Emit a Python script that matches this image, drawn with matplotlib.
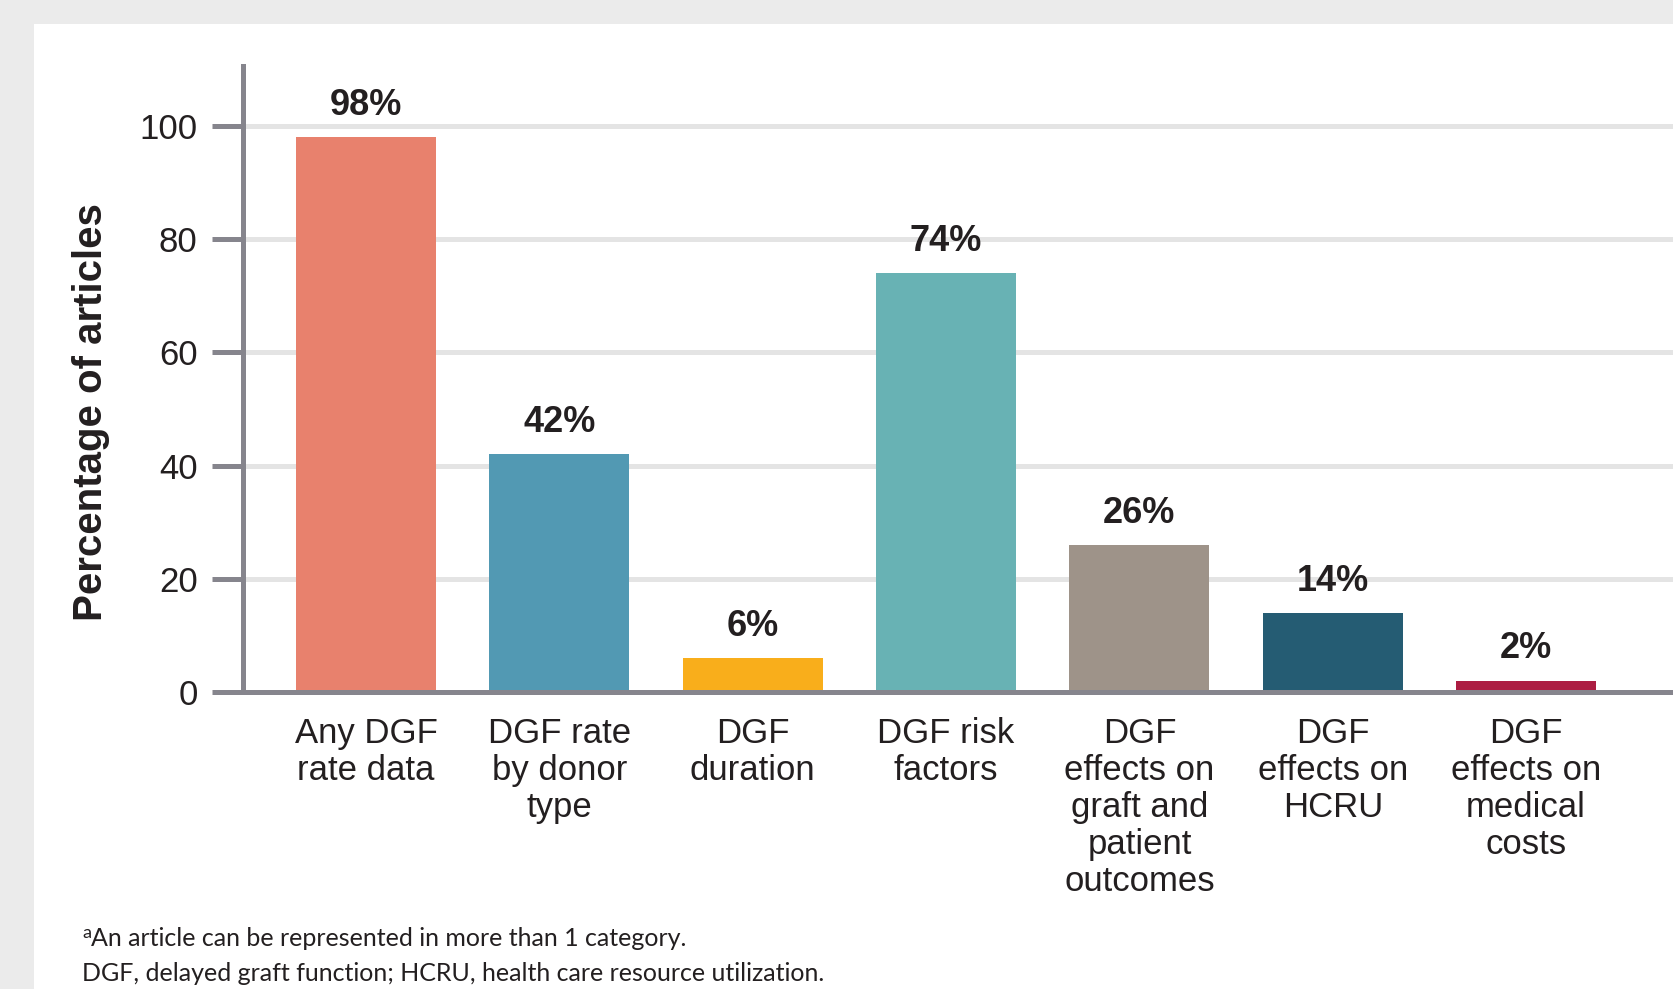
import matplotlib
matplotlib.use("Agg")
import matplotlib.pyplot as plt
from matplotlib.patches import Rectangle

categories = ["Any DGF\nrate data", "DGF rate\nby donor\ntype", "DGF\nduration",
              "DGF risk\nfactors", "DGF\neffects on\ngraft and\npatient\noutcomes",
              "DGF\neffects on\nHCRU", "DGF\neffects on\nmedical\ncosts"]
values = [98, 42, 6, 74, 26, 14, 2]
value_labels = ["98%", "42%", "6%", "74%", "26%", "14%", "2%"]
colors = ["#E8816D", "#5299B3", "#F9AE1B", "#68B2B4", "#9E9389", "#255C73", "#AC1D42"]
yticks = [0, 20, 40, 60, 80, 100]
ylabel = "Percentage of articles"
foot1 = "An article can be represented in more than 1 category."
foot2 = "DGF, delayed graft function; HCRU, health care resource utilization."

W, H = 1674, 989
fig = plt.figure(figsize=(W / 100, H / 100), dpi=100)
fig.patch.set_facecolor("#ebebeb")
fig.patches.append(Rectangle((34 / W, 0), 1 - 34 / W, 1 - 24 / H, transform=fig.transFigure,
                             facecolor="white", edgecolor="none", zorder=-10))

font = "Liberation Sans"
txtc = "#231f20"
axc = "#86858d"

ax = fig.add_axes([243.5 / W, 297 / H, 1 - 243.5 / W, 626 / H])
ax.set_zorder(2)
ax.set_facecolor("none")
x = list(range(len(values)))
ax.bar(x, values, width=0.7235, color=colors, zorder=3)
ax.set_xlim(-0.634, 6.765)
ax.set_ylim(0, 110.6)

for xi, v, lab in zip(x, values, value_labels):
    ax.annotate(lab, (xi, v), xytext=(0, 16), textcoords="offset points",
                ha="center", va="baseline", fontsize=26, fontweight="bold",
                family=font, color=txtc, zorder=4)

ax.set_yticks(yticks)
ax.set_yticklabels([str(t) for t in yticks], family=font, fontsize=25, color=txtc)
for t in yticks[1:]:
    ax.axhline(t, color="#e4e4e4", lw=3.6, zorder=1)

ax.set_xticks(x)
ax.set_xticklabels(categories, family=font, fontsize=25, color=txtc, linespacing=1.155)
ax.tick_params(axis="x", length=0, pad=18)
ax.tick_params(axis="y", length=22, width=3.6, color=axc, pad=11)

for s in ["top", "right"]:
    ax.spines[s].set_visible(False)
for s in ["left", "bottom"]:
    ax.spines[s].set_color(axc)
    ax.spines[s].set_linewidth(3.6)
    ax.spines[s].set_zorder(5)

fig.text(91 / W, 1 - 412 / H, ylabel, rotation=90, ha="center", va="center",
         fontsize=29, fontweight="bold", family=font, color=txtc)

ffont = "Lato"
fig.text(82 / W, 1 - 938 / H, "a", fontsize=13, family=ffont, color=txtc, va="baseline")
fig.text(91 / W, 1 - 946 / H, foot1, fontsize=18, family=ffont, color=txtc, va="baseline")
fig.text(82 / W, 1 - 981 / H, foot2, fontsize=18, family=ffont, color=txtc, va="baseline")

fig.savefig("out.png", dpi=100, facecolor=fig.get_facecolor())
